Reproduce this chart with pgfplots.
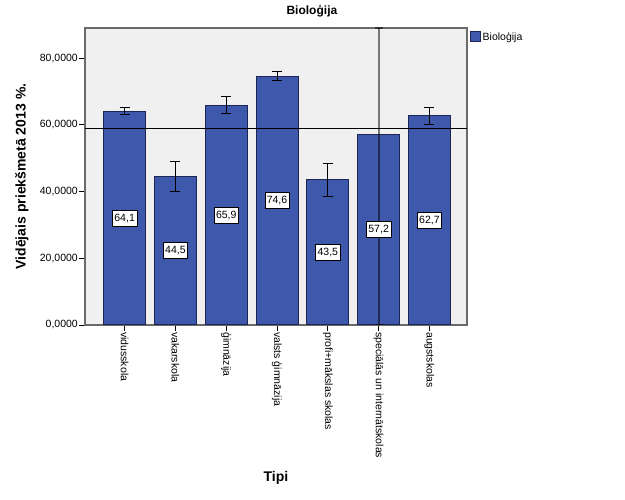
\documentclass[border=0pt]{standalone}
\usepackage{pgfplots}
\pgfplotsset{compat=1.18}
\usepackage{fontspec}
\setmainfont{Liberation Sans}
\definecolor{barfill}{HTML}{3E58AC}
\definecolor{baredge}{HTML}{1C2554}
\definecolor{plotbg}{HTML}{F0F0F0}
\definecolor{frame}{HTML}{6A6A6A}
\begin{document}
\begin{tikzpicture}[x=1bp,y=1bp]
\useasboundingbox (0,0) rectangle (625,500);
\begin{axis}[
  at={(85bp,175bp)}, anchor=south west,
  scale only axis, width=382bp, height=297bp,
  xmin=-0.78, xmax=6.74, ymin=0, ymax=89,
  axis background/.style={fill=plotbg},
  axis line style={frame, line width=1.5bp},
  xtick={0,...,6},
  xticklabels={vidusskola, vakarskola, ģimnāzija, valsts ģimnāzija, profi+mākslas skolas, speciālās un internātskolas, augstskolas},
  xticklabel style={rotate=-90, anchor=west, font=\fontsize{10.5bp}{12bp}\selectfont, inner sep=1bp},
  ytick={0,20,...,80},
  yticklabel style={font=\fontsize{10.5bp}{12bp}\selectfont, inner sep=1bp},
  /pgf/number format/.cd, assume math mode=true, fixed, fixed zerofill, precision=4, use comma, 1000 sep={},
  /pgfplots/.cd,
  tick pos=left,
  tick align=outside, major tick length=6bp,
  tick style={black, line width=0.8bp},
  title={Bioloģija},
  title style={at={(axis description cs:0.594,1)}, anchor=center, yshift=11bp, font=\bfseries\fontsize{12bp}{14bp}\selectfont},
  xlabel={Tipi},
  xlabel style={at={(axis description cs:0.5,-0.515)}, anchor=center, font=\bfseries\fontsize{14bp}{16bp}\selectfont},
  ylabel={Vidējais priekšmetā 2013 \%.},
  ylabel style={at={(axis description cs:-0.165,0.5)}, anchor=center, font=\bfseries\fontsize{14bp}{16bp}\selectfont},
  legend style={at={(1,1)}, anchor=north west, draw=none, fill=none, xshift=1.5bp, yshift=-1bp,
    font=\fontsize{10.5bp}{12bp}\selectfont, inner sep=1bp, row sep=0bp},
  legend cell align=left,
]
\addplot[ybar, bar width=42bp, fill=barfill, draw=baredge, line width=1bp,
  legend image code/.code={\draw[fill=barfill, draw=baredge, line width=1bp] (0bp,-5bp) rectangle (10bp,5bp);}]
  coordinates {(0,64.1) (1,44.5) (2,65.9) (3,74.6) (4,43.5) (5,57.2) (6,62.7)};
\addlegendentry{Bioloģija}
% reference line
\addplot[black, line width=1.1bp, forget plot] coordinates {(-0.78,58.9) (6.74,58.9)};
% error bars
\addplot[draw=none, forget plot, error bars/.cd, y dir=both, y explicit,
  error bar style={draw=black, line width=0.8bp},
  error mark options={draw=black, rotate=90, line width=0.8bp, mark size=5bp}]
  coordinates {(0,64.1) +- (0,1.1) (1,44.5) +- (0,4.6) (2,65.9) +- (0,2.5) (3,74.6) +- (0,1.35) (4,43.5) +- (0,5.0) (6,62.7) +- (0,2.5)};
\addplot[draw=none, forget plot, error bars/.cd, y dir=both, y explicit,
  error bar style={draw=black, opacity=0.5, line width=2bp},
  error mark options={draw=black, rotate=90, line width=1.5bp, mark size=4bp}]
  coordinates {(5,57.2) += (0,31.8) -= (0,57.2)};
% value labels
\addplot[draw=none, forget plot, nodes near coords, point meta=explicit symbolic,
  nodes near coords style={anchor=center, fill=white, draw=black, line width=0.6bp, text=black,
    inner xsep=2bp, inner ysep=3bp, text height=8bp, text depth=2bp,
    font=\fontsize{10.5bp}{12bp}\selectfont}]
  coordinates {(0,32.05) [64,1] (1,22.25) [44,5] (2,32.95) [65,9] (3,37.3) [74,6] (4,21.75) [43,5] (5,28.6) [57,2] (6,31.35) [62,7]};
\end{axis}
\end{tikzpicture}
\end{document}
